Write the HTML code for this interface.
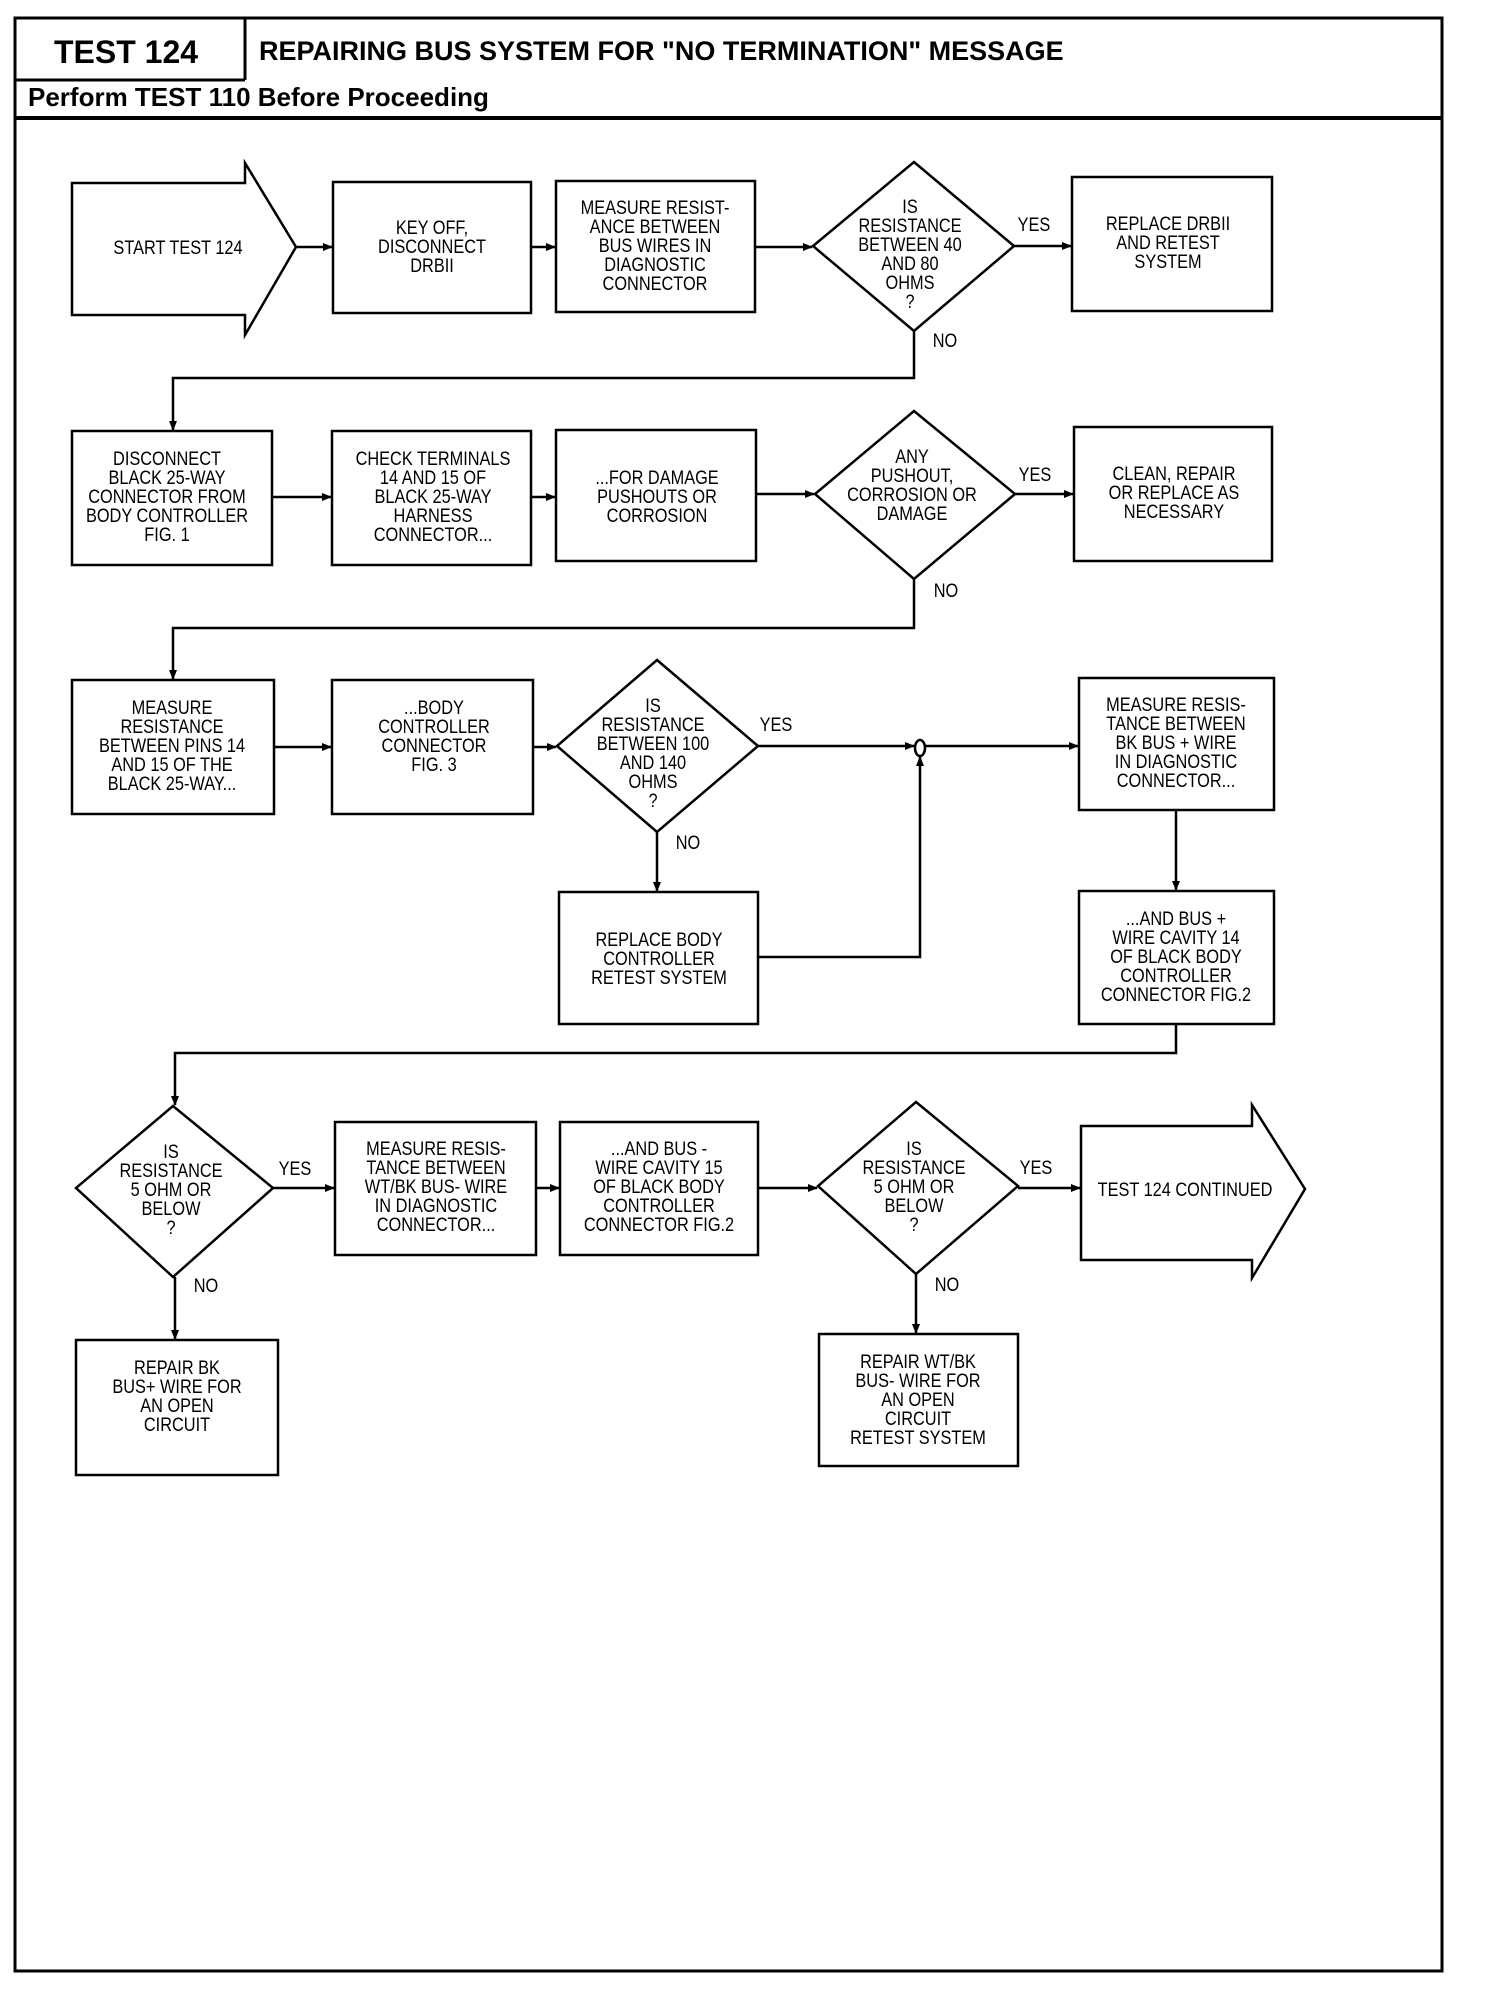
<!DOCTYPE html>
<html><head><meta charset="utf-8"><style>
html,body{margin:0;padding:0;background:#fff;}
svg{display:block;}
.t{font-family:"Liberation Sans",sans-serif;font-size:19px;text-anchor:middle;fill:#000;transform-box:fill-box;transform-origin:center;transform:scaleX(0.86);}
.h{font-family:"Liberation Sans",sans-serif;font-weight:bold;fill:#000;}
</style></head><body>
<svg width="1504" height="1990" viewBox="0 0 1504 1990" xmlns="http://www.w3.org/2000/svg">
<defs><marker id="a" markerWidth="10" markerHeight="10" refX="9" refY="5" orient="auto" markerUnits="userSpaceOnUse"><path d="M0,1 L10,5 L0,9 Z" fill="#000"/></marker></defs>
<g fill="none" stroke="#000" stroke-width="3">
<rect x="15" y="18" width="1427" height="1953" stroke-width="3"/>
<line x1="15" y1="80" x2="245" y2="80"/>
<line x1="245" y1="18" x2="245" y2="80"/>
<line x1="15" y1="118" x2="1442" y2="118" stroke-width="4"/>
</g>
<text class="h" x="54" y="63" font-size="32">TEST 124</text>
<text class="h" x="259" y="60" font-size="27">REPAIRING BUS SYSTEM FOR "NO TERMINATION" MESSAGE</text>
<text class="h" x="28" y="106" font-size="26">Perform TEST 110 Before Proceeding</text>

<g fill="#fff" stroke="#000" stroke-width="2.5">
<path d="M72,183 H245 V163 L296,247 L245,335 V315 H72 Z"/>
<rect x="333" y="182" width="198" height="131"/>
<rect x="556" y="181" width="199" height="131"/>
<path d="M914,162 L1014,246 L914,331 L813,246 Z"/>
<rect x="1072" y="177" width="200" height="134"/>
<rect x="72" y="431" width="200" height="134"/>
<rect x="332" y="431" width="199" height="134"/>
<rect x="556" y="430" width="200" height="131"/>
<path d="M914,411 L1015,494 L914,579 L815,494 Z"/>
<rect x="1074" y="427" width="198" height="134"/>
<rect x="72" y="680" width="202" height="134"/>
<rect x="332" y="680" width="201" height="134"/>
<path d="M657,660 L758,746 L657,832 L557,746 Z"/>
<rect x="1079" y="678" width="195" height="132"/>
<rect x="559" y="892" width="199" height="132"/>
<rect x="1079" y="891" width="195" height="133"/>
<ellipse cx="920" cy="748" rx="5" ry="8"/>
<path d="M173,1106 L273,1188 L173,1277 L76,1188 Z"/>
<rect x="335" y="1122" width="201" height="133"/>
<rect x="560" y="1122" width="198" height="133"/>
<path d="M916,1102 L1018,1186 L916,1274 L818,1186 Z"/>
<path d="M1081,1126 H1252 V1105 L1305,1189 L1252,1278 V1260 H1081 Z"/>
<rect x="76" y="1340" width="202" height="135"/>
<rect x="819" y="1334" width="199" height="132"/>
</g>

<g fill="none" stroke="#000" stroke-width="2.5" marker-end="url(#a)">
<line x1="296" y1="247" x2="332" y2="247"/>
<line x1="531" y1="247" x2="555" y2="247"/>
<line x1="755" y1="247" x2="812" y2="247"/>
<line x1="1014" y1="246" x2="1071" y2="246"/>
<polyline points="914,331 914,378 173,378 173,430"/>
<line x1="272" y1="497" x2="331" y2="497"/>
<line x1="531" y1="497" x2="555" y2="497"/>
<line x1="756" y1="494" x2="814" y2="494"/>
<line x1="1015" y1="494" x2="1073" y2="494"/>
<polyline points="914,579 914,628 173,628 173,679"/>
<line x1="274" y1="747" x2="331" y2="747"/>
<line x1="533" y1="747" x2="556" y2="747"/>
<line x1="758" y1="746" x2="914" y2="746"/>
<line x1="925" y1="746" x2="1078" y2="746"/>
<line x1="657" y1="832" x2="657" y2="891"/>
<polyline points="758,957 920,957 920,757"/>
<line x1="1176" y1="810" x2="1176" y2="890"/>
<polyline points="1176,1024 1176,1053 175,1053 175,1105"/>
<line x1="273" y1="1188" x2="334" y2="1188"/>
<line x1="536" y1="1188" x2="559" y2="1188"/>
<line x1="758" y1="1188" x2="817" y2="1188"/>
<line x1="1018" y1="1188" x2="1080" y2="1188"/>
<line x1="175" y1="1277" x2="175" y2="1339"/>
<line x1="916" y1="1274" x2="916" y2="1333"/>
</g>

<g>
<text class="t" x="178" y="254">START TEST 124</text>
<text class="t" x="432" y="234">KEY OFF,<tspan x="432" dy="19">DISCONNECT</tspan><tspan x="432" dy="19">DRBII</tspan></text>
<text class="t" x="655" y="214">MEASURE RESIST-<tspan x="655" dy="19">ANCE BETWEEN</tspan><tspan x="655" dy="19">BUS WIRES IN</tspan><tspan x="655" dy="19">DIAGNOSTIC</tspan><tspan x="655" dy="19">CONNECTOR</tspan></text>
<text class="t" x="910" y="213">IS<tspan x="910" dy="19">RESISTANCE</tspan><tspan x="910" dy="19">BETWEEN 40</tspan><tspan x="910" dy="19">AND 80</tspan><tspan x="910" dy="19">OHMS</tspan><tspan x="910" dy="19">?</tspan></text>
<text class="t" x="1168" y="230">REPLACE DRBII<tspan x="1168" dy="19">AND RETEST</tspan><tspan x="1168" dy="19">SYSTEM</tspan></text>
<text class="t" x="1034" y="231">YES</text>
<text class="t" x="945" y="347">NO</text>

<text class="t" x="167" y="465">DISCONNECT<tspan x="167" dy="19">BLACK 25-WAY</tspan><tspan x="167" dy="19">CONNECTOR FROM</tspan><tspan x="167" dy="19">BODY CONTROLLER</tspan><tspan x="167" dy="19">FIG. 1</tspan></text>
<text class="t" x="433" y="465">CHECK TERMINALS<tspan x="433" dy="19">14 AND 15 OF</tspan><tspan x="433" dy="19">BLACK 25-WAY</tspan><tspan x="433" dy="19">HARNESS</tspan><tspan x="433" dy="19">CONNECTOR...</tspan></text>
<text class="t" x="657" y="484">...FOR DAMAGE<tspan x="657" dy="19">PUSHOUTS OR</tspan><tspan x="657" dy="19">CORROSION</tspan></text>
<text class="t" x="912" y="463">ANY<tspan x="912" dy="19">PUSHOUT,</tspan><tspan x="912" dy="19">CORROSION OR</tspan><tspan x="912" dy="19">DAMAGE</tspan></text>
<text class="t" x="1174" y="480">CLEAN, REPAIR<tspan x="1174" dy="19">OR REPLACE AS</tspan><tspan x="1174" dy="19">NECESSARY</tspan></text>
<text class="t" x="1035" y="481">YES</text>
<text class="t" x="946" y="597">NO</text>

<text class="t" x="172" y="714">MEASURE<tspan x="172" dy="19">RESISTANCE</tspan><tspan x="172" dy="19">BETWEEN PINS 14</tspan><tspan x="172" dy="19">AND 15 OF THE</tspan><tspan x="172" dy="19">BLACK 25-WAY...</tspan></text>
<text class="t" x="434" y="714">...BODY<tspan x="434" dy="19">CONTROLLER</tspan><tspan x="434" dy="19">CONNECTOR</tspan><tspan x="434" dy="19">FIG. 3</tspan></text>
<text class="t" x="653" y="712">IS<tspan x="653" dy="19">RESISTANCE</tspan><tspan x="653" dy="19">BETWEEN 100</tspan><tspan x="653" dy="19">AND 140</tspan><tspan x="653" dy="19">OHMS</tspan><tspan x="653" dy="19">?</tspan></text>
<text class="t" x="776" y="731">YES</text>
<text class="t" x="688" y="849">NO</text>
<text class="t" x="1176" y="711">MEASURE RESIS-<tspan x="1176" dy="19">TANCE BETWEEN</tspan><tspan x="1176" dy="19">BK BUS + WIRE</tspan><tspan x="1176" dy="19">IN DIAGNOSTIC</tspan><tspan x="1176" dy="19">CONNECTOR...</tspan></text>
<text class="t" x="659" y="946">REPLACE BODY<tspan x="659" dy="19">CONTROLLER</tspan><tspan x="659" dy="19">RETEST SYSTEM</tspan></text>
<text class="t" x="1176" y="925">...AND BUS +<tspan x="1176" dy="19">WIRE CAVITY 14</tspan><tspan x="1176" dy="19">OF BLACK BODY</tspan><tspan x="1176" dy="19">CONTROLLER</tspan><tspan x="1176" dy="19">CONNECTOR FIG.2</tspan></text>

<text class="t" x="171" y="1158">IS<tspan x="171" dy="19">RESISTANCE</tspan><tspan x="171" dy="19">5 OHM OR</tspan><tspan x="171" dy="19">BELOW</tspan><tspan x="171" dy="19">?</tspan></text>
<text class="t" x="295" y="1175">YES</text>
<text class="t" x="206" y="1292">NO</text>
<text class="t" x="436" y="1155">MEASURE RESIS-<tspan x="436" dy="19">TANCE BETWEEN</tspan><tspan x="436" dy="19">WT/BK BUS- WIRE</tspan><tspan x="436" dy="19">IN DIAGNOSTIC</tspan><tspan x="436" dy="19">CONNECTOR...</tspan></text>
<text class="t" x="659" y="1155">...AND BUS -<tspan x="659" dy="19">WIRE CAVITY 15</tspan><tspan x="659" dy="19">OF BLACK BODY</tspan><tspan x="659" dy="19">CONTROLLER</tspan><tspan x="659" dy="19">CONNECTOR FIG.2</tspan></text>
<text class="t" x="914" y="1155">IS<tspan x="914" dy="19">RESISTANCE</tspan><tspan x="914" dy="19">5 OHM OR</tspan><tspan x="914" dy="19">BELOW</tspan><tspan x="914" dy="19">?</tspan></text>
<text class="t" x="1036" y="1174">YES</text>
<text class="t" x="947" y="1291">NO</text>
<text class="t" x="1185" y="1196">TEST 124 CONTINUED</text>
<text class="t" x="177" y="1374">REPAIR BK<tspan x="177" dy="19">BUS+ WIRE FOR</tspan><tspan x="177" dy="19">AN OPEN</tspan><tspan x="177" dy="19">CIRCUIT</tspan></text>
<text class="t" x="918" y="1368">REPAIR WT/BK<tspan x="918" dy="19">BUS- WIRE FOR</tspan><tspan x="918" dy="19">AN OPEN</tspan><tspan x="918" dy="19">CIRCUIT</tspan><tspan x="918" dy="19">RETEST SYSTEM</tspan></text>
</g>
</svg>
</body></html>
